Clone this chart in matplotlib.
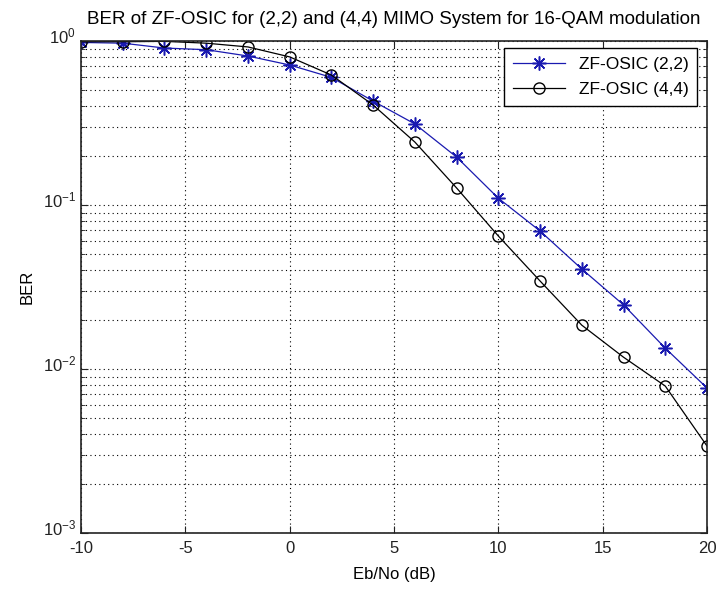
import numpy as np
import matplotlib
matplotlib.use("Agg")
from matplotlib import pyplot as plt
from matplotlib import transforms
from matplotlib.ticker import LogLocator, NullFormatter

plt.rcParams['font.family'] = ['Liberation Sans', 'DejaVu Sans']
plt.rcParams['mathtext.fontset'] = 'custom'
plt.rcParams['mathtext.rm'] = 'Liberation Sans'
plt.rcParams['mathtext.it'] = 'Liberation Sans:italic'
plt.rcParams['axes.unicode_minus'] = False

# Eb/No values (dB)
ebno = [-10, -8, -6, -4, -2, 0, 2, 4, 6, 8, 10, 12, 14, 16, 18, 20]

# BER
ber_22 = [0.98, 0.97, 0.906, 0.885, 0.81, 0.714, 0.60, 0.43, 0.312, 0.196,
          0.110, 0.0694, 0.0407, 0.0246, 0.0134, 0.00766]
ber_44 = [0.99, 0.99, 0.995, 0.97, 0.92, 0.80, 0.62, 0.407, 0.242, 0.127,
          0.0647, 0.0344, 0.0185, 0.0118, 0.00787, 0.00339]

fig = plt.figure(figsize=(7.18, 5.90), dpi=100)
ax = fig.add_axes([0.1128, 0.0966, 0.8719, 0.8339])

# matlab-like asterisk: + and x combined
ax.semilogy(ebno, ber_22, color='#1a1ab0', marker=(8, 2, 0), markersize=10,
            markeredgewidth=1.1, linewidth=0.9, label='ZF-OSIC (2,2)')
ax.semilogy(ebno, ber_44, color='black', marker='o', markersize=8,
            markerfacecolor='none', markeredgewidth=1.0, linewidth=0.9,
            label='ZF-OSIC (4,4)')

ax.set_xlim(-10, 20)
ax.set_ylim(1e-3, 1)
ax.set_xticks([-10, -5, 0, 5, 10, 15, 20])
ax.yaxis.set_major_locator(LogLocator(base=10, numticks=10))
ax.yaxis.set_minor_locator(LogLocator(base=10, subs=np.arange(2, 10), numticks=10))
ax.yaxis.set_minor_formatter(NullFormatter())

dots = (0, (1, 3))
ax.grid(True, which='major', color='black', linestyle=dots, linewidth=0.8)
ax.grid(True, which='minor', axis='y', color='black', linestyle=dots, linewidth=0.8)

ax.tick_params(which='both', direction='in', top=True, right=True,
               labelsize=12, colors='#222222')
ax.tick_params(which='major', length=5)
ax.tick_params(which='minor', length=3)
ax.tick_params(axis='x', pad=6)
for s in ax.spines.values():
    s.set_linewidth(1.2)
    s.set_color('#222222')

# nudge the decade labels up a little, like the reference
shift = transforms.ScaledTranslation(0, 6 / 100, fig.dpi_scale_trans)
for lbl in ax.get_yticklabels():
    lbl.set_transform(lbl.get_transform() + shift)

ax.set_title("BER of ZF-OSIC for (2,2) and (4,4) MIMO System for 16-QAM modulation",
             fontsize=13.5, pad=12)
ax.set_xlabel("Eb/No (dB)", fontsize=12, labelpad=8)
ax.set_ylabel("BER", fontsize=12, labelpad=6)

leg = ax.legend(loc='upper right', bbox_to_anchor=(0.984, 0.986),
                borderaxespad=0, fancybox=False, framealpha=1,
                edgecolor='black', fontsize=12.5, handlelength=3.0,
                borderpad=0.5, labelspacing=0.6)
leg.get_frame().set_linewidth(1.0)

fig.savefig("out.png", dpi=100)
